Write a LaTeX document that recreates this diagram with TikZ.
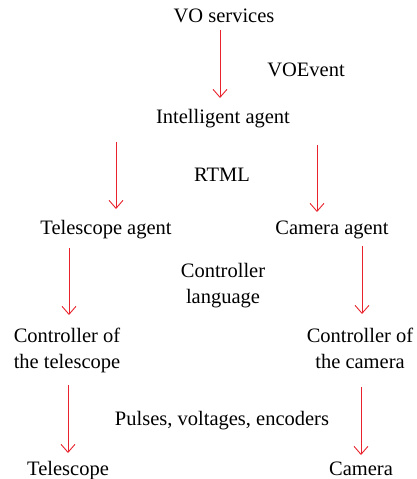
\documentclass[tikz,border=0pt]{standalone}
\usepackage{fontspec}
\setmainfont{Liberation Serif}
\usetikzlibrary{arrows.meta}
\definecolor{flowred}{RGB}{232,35,45}

\begin{document}
\begin{tikzpicture}[x=1pt,y=-1pt,
  txt/.style={inner sep=0pt,anchor=base,align=center,font=\fontsize{20.5}{26}\selectfont},
  flow/.style={draw=flowred,line width=0.9pt,-{Straight Barb[length=8pt,width=14pt]}}]
  \useasboundingbox (0,0) rectangle (417,479);
  % levels
  \node[txt] (vo) at (224,22) {VO services};
  \node[txt] (ia) at (223,123) {Intelligent agent};
  \node[txt] (tlag) at (106,234) {Telescope agent};
  \node[txt] (camag) at (332,234) {Camera agent};
  \node[txt] (tlctl) at (67,368) {Controller of\\the telescope};
  \node[txt] (camctl) at (360,368) {Controller of\\the camera};
  \node[txt] (tl) at (68,475) {Telescope};
  \node[txt] (cam) at (361,475) {Camera};
  % protocols
  \node[txt] (voevent) at (306,76) {VOEvent};
  \node[txt] (rtml) at (222,181) {RTML};
  \node[txt] (ctllang) at (223,303) {Controller\\language};
  \node[txt] (pulses) at (222,425) {Pulses, voltages, encoders};
  % arrow ends
  \coordinate (vo-out) at (220,30);     \coordinate (ia-in) at (220,98);
  \coordinate (ia-outl) at (116,142);   \coordinate (tlag-in) at (116,209);
  \coordinate (ia-outr) at (317,145);   \coordinate (camag-in) at (317,212);
  \coordinate (tlag-out) at (69,248);   \coordinate (tlctl-in) at (69,315);
  \coordinate (camag-out) at (362,246); \coordinate (camctl-in) at (362,314);
  \coordinate (tlctl-out) at (68,385);  \coordinate (tl-in) at (68,453);
  \coordinate (camctl-out) at (361,387); \coordinate (cam-in) at (361,455);
  \draw[flow] (vo-out) -- (ia-in);
  \draw[flow] (ia-outl) -- (tlag-in);
  \draw[flow] (ia-outr) -- (camag-in);
  \draw[flow] (tlag-out) -- (tlctl-in);
  \draw[flow] (camag-out) -- (camctl-in);
  \draw[flow] (tlctl-out) -- (tl-in);
  \draw[flow] (camctl-out) -- (cam-in);
\end{tikzpicture}
\end{document}
